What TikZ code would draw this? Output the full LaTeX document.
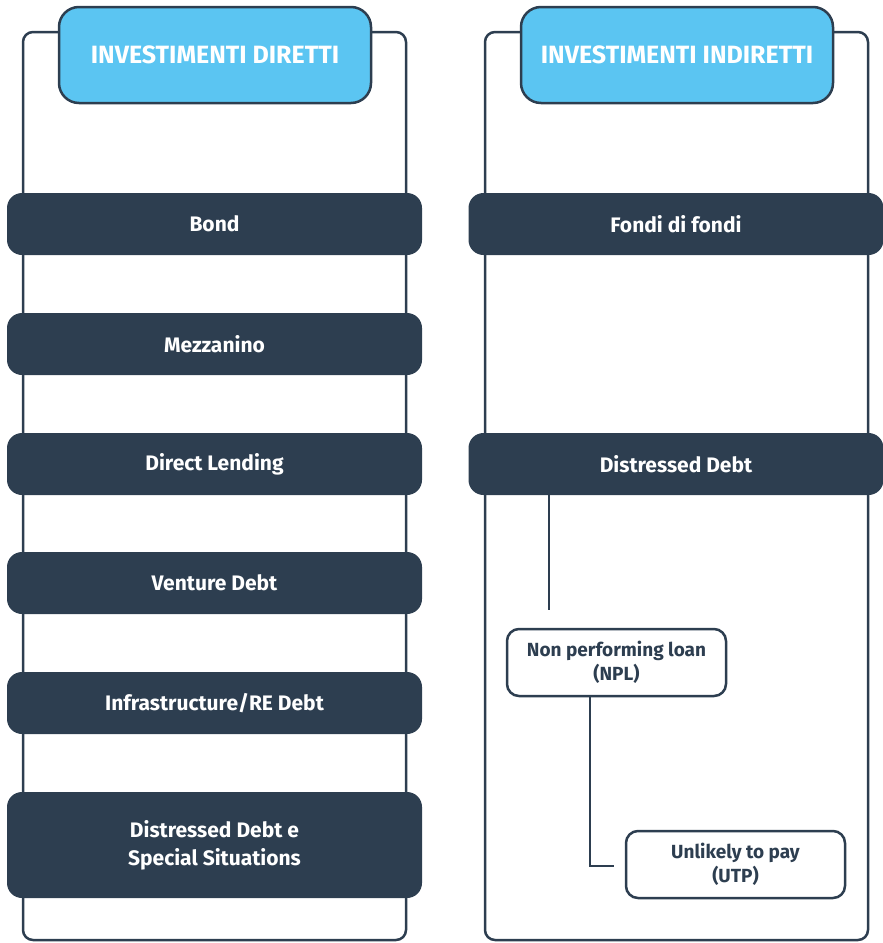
\documentclass[tikz,border=0pt]{standalone}
\usepackage{fontspec}
\setmainfont{Fira Sans}
\definecolor{navy}{HTML}{2D3E50}
\definecolor{sky}{HTML}{5BC5F2}
\tikzset{frm/.style = {draw=navy, line width=2.5pt, rounded corners=10pt},
           hd/.style = {draw=navy, fill=sky, line width=2.5pt, rounded corners=20pt, minimum width=312pt,
                        minimum height=96pt, inner sep=0pt, text=white, font=\bfseries\fontsize{25}{28}\selectfont},
           cat/.style = {fill=navy, rounded corners=15pt, minimum width=415pt, minimum height=62pt, inner sep=0pt,
                        text=white, align=center, font=\bfseries\fontsize{21}{28}\selectfont},
           sub/.style = {draw=navy, fill=white, line width=2.5pt, rounded corners=12pt, minimum width=219pt,
                        minimum height=67pt, inner sep=0pt, text=navy, align=center,
                        font=\bfseries\fontsize{19}{24}\selectfont},
           ln/.style = {draw=navy, line width=2.5pt}}

\begin{document}
\begin{tikzpicture}[x=1pt, y=-1pt]
    \useasboundingbox (0,0) rectangle (883,943);
    \draw[frm] (23,32) rectangle (406,940);
    \draw[frm] (485,32) rectangle (868,940);
    \node[hd] (dir) at (215,55) {INVESTIMENTI DIRETTI};
    \node[hd] (ind) at (677,55) {INVESTIMENTI INDIRETTI};
    % investimenti diretti
    \node[cat] (bond) at (214.5,224) {Bond};
    \node[cat] (mezz) at (214.5,344) {Mezzanino};
    \node[cat] (dl) at (214.5,464) {Direct Lending};
    \node[cat] (vd) at (214.5,583) {Venture Debt};
    \node[cat] (infra) at (214.5,703) {Infrastructure/RE Debt};
    \node[cat, minimum height=106pt] (ddss) at (214.5,845) {Distressed Debt e\\Special Situations};
    % investimenti indiretti
    \node[cat] (fof) at (676,224) {Fondi di fondi};
    \node[cat] (dd) at (676,464) {Distressed Debt};
    \node[sub] (npl) at (616.5,662.5) {Non performing loan\\(NPL)};
    \node[sub] (utp) at (735.5,864.5) {Unlikely to pay\\(UTP)};
    \coordinate (e1) at (549,610);
    \coordinate (k) at (590,866);
    \coordinate (e2) at (614,866);
    \draw[ln] (dd.south -| e1) -- (e1);
    \draw[ln] (npl.south -| k) -- (k) -- (e2);
\end{tikzpicture}
\end{document}
